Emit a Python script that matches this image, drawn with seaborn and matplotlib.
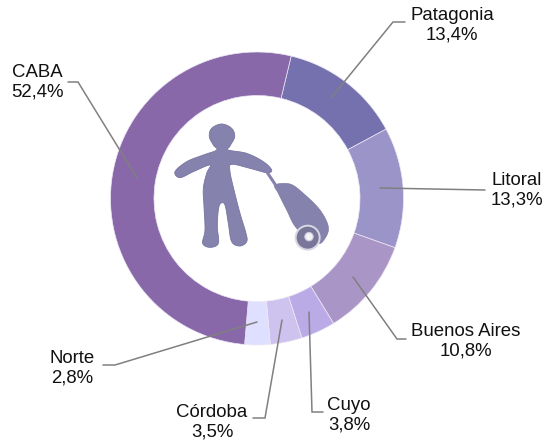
import matplotlib
matplotlib.use("Agg")
import matplotlib.pyplot as plt
from matplotlib.patches import Polygon, Circle
import numpy as np
import seaborn as sns

regions = ["Patagonia", "Litoral", "Buenos Aires", "Cuyo", "Córdoba", "Norte", "CABA"]
shares = [13.4, 13.3, 10.8, 3.8, 3.5, 2.8, 52.4]
share_labels = ["13,4%", "13,3%", "10,8%", "3,8%", "3,5%", "2,8%", "52,4%"]
colors = ["#7570AE", "#9B94C8", "#A996C6", "#BAABE6", "#CDC3EE", "#DFDFFF", "#8868A8"]

sns.set_theme(style="white")
plt.rcParams["font.family"] = ["Liberation Sans", "DejaVu Sans"]

W, H = 546, 441
fig = plt.figure(figsize=(W / 100, H / 100), dpi=100, facecolor="white")
ax = fig.add_axes([0, 0, 1, 1])


def Y(py):
    return H - py


ax.pie(shares, colors=colors, startangle=76.5, counterclock=False,
       center=(257, Y(198.5)), radius=146.5, frame=False,
       wedgeprops=dict(width=43.5, edgecolor="#EDE8F5", linewidth=0.5))
ax.set_xlim(0, W)
ax.set_ylim(0, H)
ax.set_aspect("equal")
ax.axis("off")

leaders = {
    "Patagonia": [(331, 98), (393, 22), (405, 22)],
    "Litoral": [(380, 188), (485, 190)],
    "Buenos Aires": [(353, 277), (397, 339), (406, 339)],
    "Cuyo": [(309, 312), (312, 412), (323, 412)],
    "Córdoba": [(282, 320), (265, 418), (253, 418)],
    "Norte": [(257, 322), (115, 365), (103, 365)],
    "CABA": [(137, 178), (78, 82), (68, 82)],
}
for pts in leaders.values():
    xs, ys = zip(*pts)
    ax.plot(xs, [Y(v) for v in ys], color="#808080", lw=1.1, solid_joinstyle="miter", zorder=4)

label_pos = {
    "Patagonia": (452, 25),
    "Litoral": (517, 190),
    "Buenos Aires": (466, 341),
    "Cuyo": (349, 415),
    "Córdoba": (212, 422),
    "Norte": (72, 368),
    "CABA": (37, 82),
}
for name, val in zip(regions, share_labels):
    x, y = label_pos[name]
    ax.text(x, Y(y), f"{name}\n{val}", ha="center", va="center", fontsize=13.4,
            color="#111111", linespacing=1.22, zorder=5)


def smooth(points, n=8):
    # closed Catmull-Rom curve through the outline points
    p = np.asarray(points, float)
    t = np.linspace(0, 1, n, endpoint=False)[:, None]
    p0, p1, p2, p3 = np.roll(p, 1, axis=0), p, np.roll(p, -1, axis=0), np.roll(p, -2, axis=0)
    out = []
    for a, b, c, d in zip(p0, p1, p2, p3):
        out.append(0.5 * (2 * b + (c - a) * t + (2 * a - 5 * b + 4 * c - d) * t ** 2
                          + (3 * b - a - 3 * c + d) * t ** 3))
    return np.vstack(out)


def to_px(points):
    return [(160 + a / 3, Y(110 + b / 3)) for a, b in points]


person = [(185, 42), (215, 55), (224, 80), (210, 108), (205, 120), (260, 130), (310, 155), (335, 180),
          (320, 188), (270, 175), (215, 163), (210, 185), (222, 240), (240, 310), (258, 370), (260, 395),
          (240, 408), (215, 395), (205, 340), (195, 285), (182, 280), (175, 300), (172, 350), (175, 400),
          (150, 412), (128, 400), (135, 360), (132, 290), (130, 235), (140, 190), (150, 165), (100, 185),
          (60, 203), (45, 185), (80, 155), (130, 135), (170, 120), (160, 105), (148, 80), (155, 55)]
case = [(345, 225), (390, 222), (430, 250), (480, 300), (505, 350), (495, 385), (470, 400),
        (410, 355), (380, 300), (355, 250)]
sil = "#8583AE"
ax.add_patch(Polygon(to_px(smooth(person)), closed=True, fc=sil, ec="#77759F", lw=0.6, zorder=3))
ax.add_patch(Polygon(to_px(smooth(case)), closed=True, fc=sil, ec="#77759F", lw=0.4, zorder=3))
hx, hy = zip(*to_px([(322, 188), (350, 230)]))
ax.plot(hx, hy, color=sil, lw=2.2, zorder=3)
wheel_c = to_px([(443, 383)])[0]
ax.add_patch(Circle(wheel_c, 12, fc="#7A7699", ec="#D8D8E4", lw=1.4, zorder=4))
ax.add_patch(Circle(to_px([(447, 380)])[0], 4.2, fc="#F4F4F8", ec="#C8C8DA", lw=0.8, zorder=5))

fig.savefig("out.png", dpi=100, facecolor="white")
